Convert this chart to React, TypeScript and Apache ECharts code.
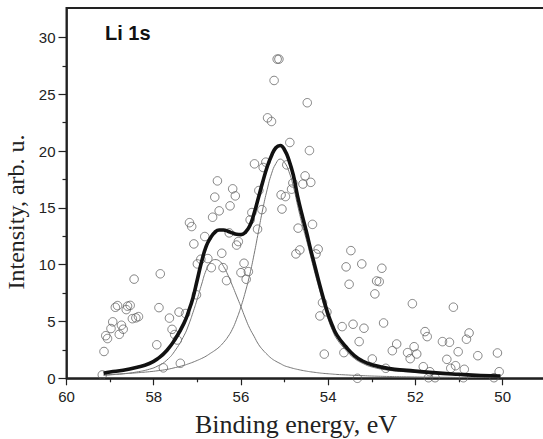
import React, { useEffect, useRef } from "react";
import * as echarts from "echarts";

// Measured points (binding energy eV, intensity arb. u.)
const pointsEnergy: number[] = [
  59.18, 59.14, 59.10, 59.06, 58.98, 58.94, 58.88, 58.83, 58.79, 58.74, 58.70, 58.63, 58.60, 58.54,
  58.49, 58.45, 58.41, 58.35,
  57.93, 57.88, 57.85, 57.78, 57.64, 57.58, 57.52, 57.46, 57.42, 57.39, 57.27, 57.02,
  57.18, 57.13, 57.08, 57.00, 56.92, 56.83, 56.76, 56.68, 56.65, 56.60, 56.54, 56.50, 56.44, 56.41,
  56.33, 56.27, 56.25, 56.19, 56.13, 56.10, 56.06, 56.00,
  55.93, 55.83, 55.88, 55.79, 55.75, 55.62, 55.52, 55.69, 55.43, 55.49, 55.59, 55.06, 55.08, 54.98,
  55.39, 55.30, 55.24, 55.17, 55.13, 54.48, 54.88, 54.43, 54.95, 54.53, 54.40, 54.58, 54.81, 54.84,
  54.69, 54.36, 54.65, 54.74, 54.23, 54.28, 54.13, 54.03, 54.19, 54.09,
  53.48, 53.59, 53.23, 52.77, 53.52, 52.89, 52.83, 52.93, 52.07, 51.13,
  53.68, 53.43, 53.18, 52.73, 53.29, 53.64, 52.99, 52.68, 53.33,
  52.43, 52.53, 52.18, 52.12, 51.97, 52.03, 51.78, 51.73, 51.38, 51.22, 51.02, 51.28,
  50.77, 50.83, 50.57, 50.12, 50.08, 51.82, 51.67, 51.19, 51.08, 50.88,
  51.70, 51.55, 50.90, 50.20,
];
const pointsIntensity: number[] = [
  0.3, 2.36, 3.75, 3.5, 4.38, 4.97, 6.25, 6.4, 3.87, 4.67, 4.32, 6.05, 6.35, 6.42,
  5.25, 8.73, 5.32, 5.43,
  2.95, 6.22, 9.2, 0.92, 5.3, 4.31, 3.85, 3.37, 5.83, 1.32, 5.7, 7.35,
  13.7, 13.36, 11.83, 10.07, 10.48, 12.48, 10.54, 9.74, 14.18, 15.95, 17.38, 14.74, 11.01, 9.74,
  8.6, 12.8, 15.18, 16.68, 16.06, 11.73, 12.04, 9.3,
  10.13, 9.39, 8.72, 13.95, 14.59, 13.13, 14.85, 18.88, 19.03, 18.56, 16.53, 14.9, 16.15, 16.0,
  22.93, 22.61, 26.22, 28.1, 28.1, 24.26, 20.76, 20.05, 18.79, 17.82, 17.25, 17.1, 17.2, 16.65,
  13.22, 13.55, 11.3, 10.95, 11.37, 10.95, 6.66, 5.84, 5.49, 2.13,
  11.24, 9.81, 10.07, 9.69, 8.28, 8.57, 8.51, 7.43, 6.57, 6.26,
  4.55, 4.76, 4.41, 4.87, 3.23, 2.26, 1.7, 0.88, 0.0,
  3.02, 2.43, 2.26, 1.73, 2.14, 2.78, 4.11, 3.67, 3.23, 3.17, 2.34, 1.67,
  3.99, 3.44, 1.99, 2.23, 0.58, 1.02, 0.58, 0.88, 1.11, 0.79,
  0.05, 0.05, 0.05, 0.05,
];

// Fit curves
const fitEnergy: number[] = [
  59.15, 59.0, 58.7, 58.4, 58.1, 57.9, 57.7, 57.5, 57.3, 57.2, 57.1, 57.0, 56.9, 56.8, 56.7, 56.6,
  56.5, 56.4, 56.3, 56.2, 56.1, 56.0, 55.9, 55.8, 55.7, 55.6, 55.5, 55.4, 55.3, 55.2, 55.1, 55.0,
  54.9, 54.8, 54.7, 54.6, 54.5, 54.4, 54.3, 54.2, 54.1, 54.0, 53.9, 53.8, 53.6, 53.4, 53.2, 53.0,
  52.6, 52.2, 51.6, 51.0, 50.5, 50.05,
];
const envelope: number[] = [
  0.45, 0.55, 0.7, 0.95, 1.3, 1.75, 2.45, 3.5, 4.9, 5.9, 7.1, 8.7, 10.3, 11.6, 12.35, 12.85,
  13.05, 13.05, 12.95, 12.8, 12.68, 12.65, 12.85, 13.4, 14.5, 15.9, 17.3, 18.6, 19.6, 20.3, 20.5, 20.1,
  19.2, 17.9, 16.0, 14.4, 12.9, 11.3, 9.8, 8.3, 6.9, 5.6, 4.6, 3.8, 2.8, 2.0, 1.5, 1.2,
  0.85, 0.7, 0.5, 0.35, 0.25, 0.2,
];
const peak1: number[] = [
  0.25, 0.3, 0.4, 0.55, 0.8, 1.1, 1.6, 2.5, 3.8, 4.7, 5.8, 7.0, 8.3, 9.5, 10.2, 10.45,
  10.35, 9.85, 9.1, 8.2, 7.25, 6.3, 5.3, 4.4, 3.7, 3.0, 2.5, 2.1, 1.75, 1.5, 1.3, 1.1,
  0.98, 0.87, 0.78, 0.7, 0.63, 0.57, 0.52, 0.47, 0.43, 0.4, 0.37, 0.34, 0.3, 0.26, 0.23, 0.2,
  0.16, 0.13, 0.1, 0.08, 0.07, 0.06,
];
const peak2: number[] = [
  0.3, 0.33, 0.4, 0.48, 0.58, 0.67, 0.78, 0.95, 1.15, 1.28, 1.42, 1.58, 1.75, 1.95, 2.2, 2.45,
  2.75, 3.15, 3.65, 4.3, 5.2, 6.3, 7.6, 9.1, 10.9, 12.9, 14.9, 16.6, 18.0, 18.9, 19.3, 19.0,
  18.2, 16.9, 15.2, 13.6, 12.2, 10.7, 9.2, 7.8, 6.4, 5.2, 4.2, 3.45, 2.5, 1.75, 1.3, 1.0,
  0.7, 0.57, 0.42, 0.3, 0.2, 0.15,
];

const xLabelValues: number[] = [60, 58, 56, 54, 52, 50];
const yMajorTicks: number[] = [0, 5, 10, 15, 20, 25, 30];
const yMinorTicks: number[] = [2.5, 7.5, 12.5, 17.5, 22.5, 27.5];

const SANS = '"Liberation Sans", Arial, Helvetica, sans-serif';
const SERIF = '"Liberation Serif", "Times New Roman", Times, serif';

export default function App() {
  const ref = useRef<HTMLDivElement>(null);
  useEffect(() => {
    if (!ref.current) return;
    const chart = echarts.init(ref.current, undefined, { renderer: "svg" });
    const pts = pointsEnergy.map((e, i) => [e, pointsIntensity[i]]);
    const curve = (ys: number[]) => fitEnergy.map((e, i) => [e, ys[i]]);
    chart.setOption({
      animation: false,
      backgroundColor: "#ffffff",
      grid: {
        left: 66.5,
        top: 8,
        width: 523.4,
        height: 370.3,
        containLabel: false,
        outerBoundsMode: "none",
        show: true,
        borderColor: "#222",
        borderWidth: 2,
        backgroundColor: "transparent",
      },
      xAxis: {
        type: "value",
        min: 48,
        max: 60,
        interval: 2,
        inverse: true,
        axisLine: { show: true, onZero: false, lineStyle: { color: "#222", width: 1.6 } },
        axisTick: { show: true, length: 7, lineStyle: { color: "#222", width: 1.2 } },
        minorTick: { show: true, splitNumber: 2, length: 4, lineStyle: { color: "#222", width: 1.2 } },
        splitLine: { show: false },
        minorSplitLine: { show: false },
        axisLabel: {
          color: "#222",
          fontSize: 15,
          fontFamily: SANS,
          margin: 11,
          customValues: xLabelValues,
        },
      },
      yAxis: [
        {
          type: "value",
          min: 0,
          max: 32.6,
          interval: 5,
          axisLine: { show: true, onZero: false, lineStyle: { color: "#222", width: 1.6 } },
          axisTick: { show: true, length: 8, customValues: yMajorTicks, lineStyle: { color: "#222", width: 1.2 } },
          splitLine: { show: false },
          axisLabel: {
            color: "#222",
            fontSize: 15,
            fontFamily: SANS,
            margin: 11,
            customValues: yMajorTicks,
          },
        },
        {
          type: "value",
          min: 0,
          max: 32.6,
          position: "left",
          axisLine: { show: false },
          axisTick: { show: true, length: 4, customValues: yMinorTicks, lineStyle: { color: "#222", width: 1.2 } },
          axisLabel: { show: false },
          splitLine: { show: false },
        },
      ],
      series: [
        {
          type: "scatter",
          data: pts,
          symbol: "circle",
          symbolSize: 8.5,
          itemStyle: { color: "rgba(0,0,0,0)", borderColor: "#555", borderWidth: 0.9 },
          z: 2,
        },
        {
          type: "line",
          data: curve(peak1),
          smooth: true,
          showSymbol: false,
          lineStyle: { color: "#777", width: 1 },
          z: 3,
        },
        {
          type: "line",
          data: curve(peak2),
          smooth: true,
          showSymbol: false,
          lineStyle: { color: "#777", width: 1 },
          z: 3,
        },
        {
          type: "line",
          data: curve(envelope),
          smooth: true,
          showSymbol: false,
          lineStyle: { color: "#111", width: 3.6 },
          z: 4,
        },
      ],
      graphic: [
        {
          type: "text",
          left: 105,
          top: 23,
          style: { text: "Li 1s", font: `bold 20px ${SANS}`, fill: "#111" },
        },
        {
          type: "text",
          x: 296,
          y: 424,
          style: {
            text: "Binding energy, eV",
            font: `26px ${SERIF}`,
            fill: "#222",
            align: "center",
            verticalAlign: "middle",
          },
        },
        {
          type: "text",
          x: 16,
          y: 212,
          rotation: Math.PI / 2,
          style: {
            text: "Intensity, arb. u.",
            font: `24px ${SERIF}`,
            fill: "#222",
            align: "center",
            verticalAlign: "middle",
          },
        },
      ],
    });
    return () => chart.dispose();
  }, []);
  return (
    <div
      ref={ref}
      style={{ position: "fixed", left: 0, top: 0, width: 543, height: 439, background: "#fff" }}
    />
  );
}
